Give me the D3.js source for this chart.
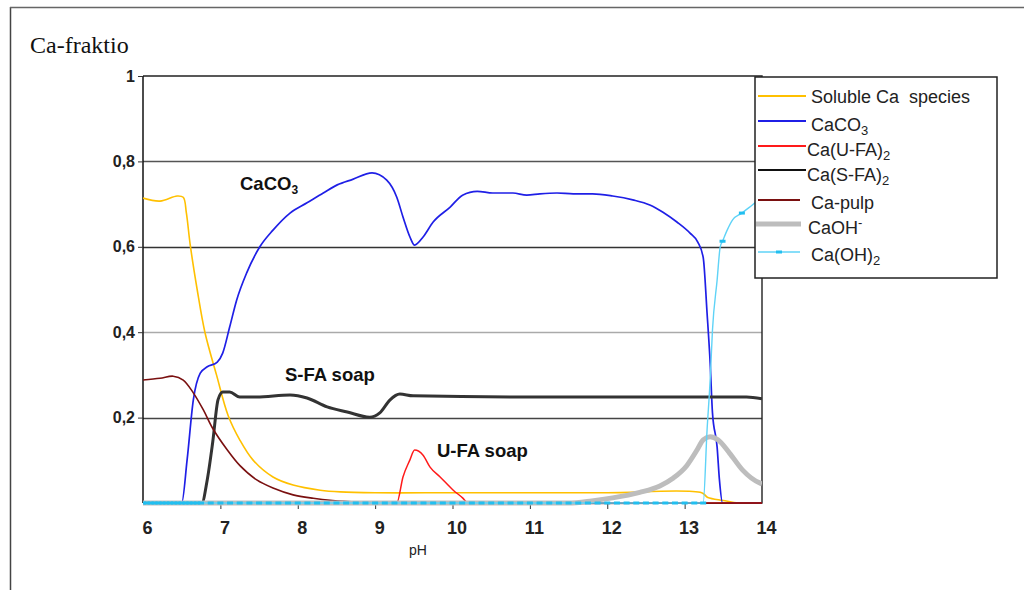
<!DOCTYPE html>
<html>
<head>
<meta charset="utf-8">
<script src="https://cdn.jsdelivr.net/npm/d3@7"></script>
<style>
  html, body { margin: 0; padding: 0; background: #fff; }
  svg { display: block; }
</style>
</head>
<body>
<svg id="chart" width="1024" height="590"></svg>
<script>
// Calcium speciation vs pH: fraction of total Ca in each form.

const xTicks = [6, 7, 8, 9, 10, 11, 12, 13, 14];
const yTicks = [0.2, 0.4, 0.6, 0.8, 1];
const yTickLabels = ["0,2", "0,4", "0,6", "0,8", "1"];

// [pH, fraction]
const soluble = [[6,0.714],[6.22,0.707],[6.44,0.719],[6.52,0.716],[6.56,0.68],[6.61,0.605],[6.70,0.50],[6.80,0.40],[6.95,0.30],[7.10,0.205],[7.25,0.148],[7.42,0.101],[7.68,0.061],[7.94,0.042],[8.29,0.030],[8.55,0.026],[9,0.024],[10,0.024],[11,0.024],[12,0.024],[13.22,0.024],[13.3,0.013],[13.5,0.006],[13.7,0],[14,0]];

const caco3 = [[6,0],[6.5,0],[6.57,0.101],[6.65,0.241],[6.74,0.304],[6.83,0.319],[6.96,0.330],[7.03,0.351],[7.12,0.412],[7.21,0.475],[7.34,0.539],[7.51,0.600],[7.68,0.639],[7.90,0.679],[8.12,0.703],[8.33,0.726],[8.51,0.745],[8.71,0.758],[8.96,0.773],[9.15,0.756],[9.28,0.716],[9.36,0.670],[9.45,0.623],[9.51,0.604],[9.62,0.623],[9.75,0.658],[9.97,0.693],[10.13,0.721],[10.32,0.730],[10.52,0.726],[10.78,0.726],[10.96,0.721],[11.13,0.724],[11.35,0.726],[11.56,0.724],[11.81,0.724],[12.07,0.719],[12.33,0.710],[12.55,0.698],[12.72,0.681],[12.90,0.658],[13.07,0.632],[13.17,0.611],[13.24,0.575],[13.29,0.445],[13.33,0.328],[13.36,0.211],[13.42,0.131],[13.45,0.054],[13.49,0],[14,0]];

const caUFA = [[6,0],[9.28,0],[9.36,0.061],[9.45,0.101],[9.51,0.124],[9.62,0.112],[9.71,0.084],[9.84,0.061],[10.01,0.030],[10.13,0.012],[10.2,0],[14,0]];

const caSFA = [[6,0],[6.76,0],[6.83,0.054],[6.90,0.141],[6.97,0.242],[7.03,0.260],[7.12,0.260],[7.25,0.248],[7.47,0.248],[7.90,0.253],[8.12,0.246],[8.38,0.225],[8.64,0.213],[8.93,0.201],[9.06,0.211],[9.19,0.241],[9.32,0.255],[9.49,0.251],[11.13,0.248],[13.8,0.248],[14,0.244]];

const caPulp = [[6,0.288],[6.22,0.292],[6.39,0.297],[6.52,0.288],[6.65,0.258],[6.78,0.218],[6.90,0.175],[7.09,0.124],[7.25,0.088],[7.47,0.054],[7.68,0.035],[7.94,0.019],[8.20,0.011],[8.45,0.006],[8.8,0.002],[9.1,0],[14,0]];

const caOHion = [[6,0],[11.5,0],[11.8,0.005],[12.07,0.012],[12.42,0.025],[12.68,0.040],[12.85,0.058],[13.03,0.088],[13.16,0.124],[13.24,0.148],[13.33,0.155],[13.43,0.148],[13.58,0.117],[13.75,0.077],[13.97,0.047],[14,0.045]];

const caOH2 = [[6,0],[13.24,0],[13.29,0.171],[13.33,0.288],[13.36,0.405],[13.42,0.522],[13.46,0.600],[13.49,0.613],[13.55,0.639],[13.62,0.663],[13.74,0.679],[13.84,0.693],[13.93,0.705],[14,0.71]];

// sample points of Ca(OH)2 that carry a dash marker
const caOH2Markers = [[6,0],[6.05,0],[6.1,0],[6.15,0],[6.2,0],[6.25,0],[6.3,0],[6.35,0],[6.4,0],[6.45,0],[6.5,0],[6.55,0],[6.6,0],[6.65,0],[6.7,0],[6.75,0],
  [6.875,0],[7,0],[7.125,0],[7.25,0],[7.375,0],[7.5,0],[7.625,0],[7.75,0],[7.875,0],[8,0],[8.125,0],[8.25,0],[8.375,0],[8.5,0],[8.625,0],[8.75,0],[8.875,0],[9,0],[9.125,0],[9.25,0],[9.375,0],[9.5,0],[9.625,0],[9.75,0],[9.875,0],[10,0],[10.125,0],[10.25,0],[10.375,0],[10.5,0],[10.625,0],[10.75,0],[10.875,0],[11,0],[11.125,0],[11.25,0],[11.375,0],[11.5,0],[11.625,0],[11.75,0],[11.875,0],[12,0],[12.125,0],[12.25,0],[12.375,0],[12.5,0],[12.625,0],[12.75,0],[12.875,0],[13,0],[13.125,0],[13.24,0],[13.49,0.613],[13.74,0.679],[14,0.71]];

const svg = d3.select("#chart");

const x = d3.scaleLinear().domain([6, 14]).range([143, 762]);
const y = d3.scaleLinear().domain([0, 1]).range([503, 76]);

// outer figure frame
svg.append("line").attr("x1", 10.5).attr("x2", 10.5).attr("y1", 7).attr("y2", 590)
  .attr("stroke", "#444").attr("stroke-width", 1.5);
svg.append("line").attr("x1", 10).attr("x2", 1024).attr("y1", 7.5).attr("y2", 7.5)
  .attr("stroke", "#666").attr("stroke-width", 1.5);

// title
svg.append("text").attr("x", 30).attr("y", 53)
  .attr("font-family", "'Liberation Serif', 'Times New Roman', serif")
  .attr("font-size", 24).attr("fill", "#111").text("Ca-fraktio");

// horizontal grid
const gridColor = {0.2: "#444", 0.4: "#aaa", 0.6: "#333", 0.8: "#555"};
svg.append("g").selectAll("line").data([0.2, 0.4, 0.6, 0.8]).join("line")
  .attr("x1", x(6)).attr("x2", x(14))
  .attr("y1", d => Math.round(y(d)) + 0.5).attr("y2", d => Math.round(y(d)) + 0.5)
  .attr("stroke", d => gridColor[d]).attr("stroke-width", 1.3);

// plot frame (top and right)
svg.append("path")
  .attr("d", `M${x(6)},${y(1)}H${x(14)}V${y(0)}`)
  .attr("fill", "none").attr("stroke", "#222").attr("stroke-width", 1.4);

// y axis
const yAxis = d3.axisLeft(y).tickValues(yTicks)
  .tickFormat((d, i) => yTickLabels[i]).tickSize(5).tickSizeOuter(0);
const gy = svg.append("g").attr("transform", `translate(${x(6)},0)`).call(yAxis);
gy.select(".domain").attr("stroke", "#111").attr("stroke-width", 1.5)
  .attr("d", `M0,${y(1)}V${y(0)}`);
gy.selectAll(".tick line").attr("stroke", "#333");
gy.selectAll(".tick text")
  .attr("font-family", "'Liberation Sans', Arial, sans-serif")
  .attr("font-weight", "bold").attr("font-size", 16).attr("fill", "#222")
  .attr("x", -8);

// x axis
const xAxis = d3.axisBottom(x).tickValues(xTicks).tickFormat(d3.format("d"))
  .tickSize(6).tickSizeOuter(0).tickPadding(12);
const gx = svg.append("g").attr("transform", `translate(0,${y(0)})`).call(xAxis);
gx.select(".domain").attr("stroke", "#333").attr("stroke-width", 1.2);
gx.selectAll(".tick line").attr("stroke", "#333")
  .attr("opacity", d => (d === 6 || d === 14) ? 0 : 1);
gx.selectAll(".tick text")
  .attr("font-family", "'Liberation Sans Narrow', 'Liberation Sans', Arial, sans-serif")
  .attr("font-weight", "bold").attr("font-size", 18).attr("fill", "#222")
  .attr("dx", 4);

svg.append("text").attr("x", 418).attr("y", 555).attr("text-anchor", "middle")
  .attr("font-family", "'Liberation Sans Narrow', 'Liberation Sans', Arial, sans-serif")
  .attr("font-size", 14).attr("fill", "#222").text("pH");

// series
svg.append("defs").append("clipPath").attr("id", "plotClip")
  .append("rect").attr("x", x(6)).attr("y", y(1) - 2)
  .attr("width", x(14) - x(6)).attr("height", y(0) - y(1) + 5);

const line = d3.line().x(d => x(d[0])).y(d => y(d[1])).curve(d3.curveMonotoneX);
const smoothLine = d3.line().x(d => x(d[0])).y(d => y(d[1])).curve(d3.curveCatmullRom.alpha(0.5));
const plot = svg.append("g").attr("clip-path", "url(#plotClip)");

const series = [
  {data: soluble, color: "#ffc000", width: 1.6, gen: smoothLine},
  {data: caco3,   color: "#1f1fe6", width: 1.7, gen: line},
  {data: caUFA,   color: "#ff1a1a", width: 1.5, gen: line},
  {data: caSFA,   color: "#333333", width: 3, gen: line},
  {data: caPulp,  color: "#7a1010", width: 1.6, gen: smoothLine},
  {data: caOHion, color: "#bdbdbd", width: 5, gen: line},
  {data: caOH2,   color: "#5fd3f7", width: 1.4, gen: line}
];
plot.selectAll("path.series").data(series).join("path")
  .attr("class", "series")
  .attr("d", d => d.gen(d.data))
  .attr("fill", "none")
  .attr("stroke", d => d.color)
  .attr("stroke-width", d => d.width)
  .attr("stroke-linejoin", "round");

plot.selectAll("rect.mk").data(caOH2Markers).join("rect")
  .attr("class", "mk")
  .attr("x", d => x(d[0]) - 3).attr("y", d => y(d[1]) - 1.5)
  .attr("width", 6).attr("height", 3)
  .attr("fill", "#22bff0");

// annotations
const annot = svg.append("g")
  .attr("font-family", "'Liberation Sans', Arial, sans-serif")
  .attr("font-weight", "bold").attr("font-size", 18.5).attr("fill", "#111");
const t1 = annot.append("text").attr("x", 240).attr("y", 190);
t1.append("tspan").text("CaCO");
t1.append("tspan").attr("font-size", 12).attr("dy", 4).text("3");
annot.append("text").attr("x", 285).attr("y", 381).text("S-FA soap");
annot.append("text").attr("x", 437).attr("y", 457).text("U-FA soap");

// legend
const legend = svg.append("g");
legend.append("rect").attr("x", 755).attr("y", 77).attr("width", 242).attr("height", 201)
  .attr("fill", "#fff").attr("stroke", "#222").attr("stroke-width", 1.5);

const legendItems = [
  {parts: [["Soluble Ca\u00a0 species", 0]], color: "#ffc000", w: 1.8, ly: 96, tx: 811, ty: 103, x1: 758, x2: 806},
  {parts: [["CaCO", 0], ["3", 1]], color: "#1f1fe6", w: 2, ly: 121, tx: 811, ty: 131, x1: 758, x2: 806},
  {parts: [["Ca(U-FA)", 0], ["2", 1]], color: "#ff1a1a", w: 2, ly: 146, tx: 807, ty: 156, x1: 758, x2: 806},
  {parts: [["Ca(S-FA)", 0], ["2", 1]], color: "#111", w: 2, ly: 170, tx: 807, ty: 181, x1: 758, x2: 806},
  {parts: [["Ca-pulp", 0]], color: "#7a1010", w: 2, ly: 200, tx: 811, ty: 209, x1: 758, x2: 800},
  {parts: [["CaOH", 0], ["-", -1]], color: "#bdbdbd", w: 5, ly: 224, tx: 808, ty: 234, x1: 756, x2: 801},
  {parts: [["Ca(OH)", 0], ["2", 1]], color: "#5fd3f7", w: 1.6, ly: 252, tx: 811, ty: 261, x1: 758, x2: 800}
];
legendItems.forEach(it => {
  legend.append("line").attr("x1", it.x1).attr("x2", it.x2)
    .attr("y1", it.ly).attr("y2", it.ly)
    .attr("stroke", it.color).attr("stroke-width", it.w);
  const t = legend.append("text").attr("x", it.tx).attr("y", it.ty)
    .attr("font-family", "'Liberation Sans', Arial, sans-serif")
    .attr("font-size", 18).attr("fill", "#222");
  it.parts.forEach(([s, k]) => {
    const ts = t.append("tspan").text(s);
    if (k === 1) ts.attr("font-size", 13).attr("dy", 4);
    if (k === -1) ts.attr("font-size", 13).attr("dy", -7);
  });
});
legend.append("rect").attr("x", 776).attr("y", 250.5).attr("width", 6).attr("height", 3)
  .attr("fill", "#22bff0");
</script>
</body>
</html>
